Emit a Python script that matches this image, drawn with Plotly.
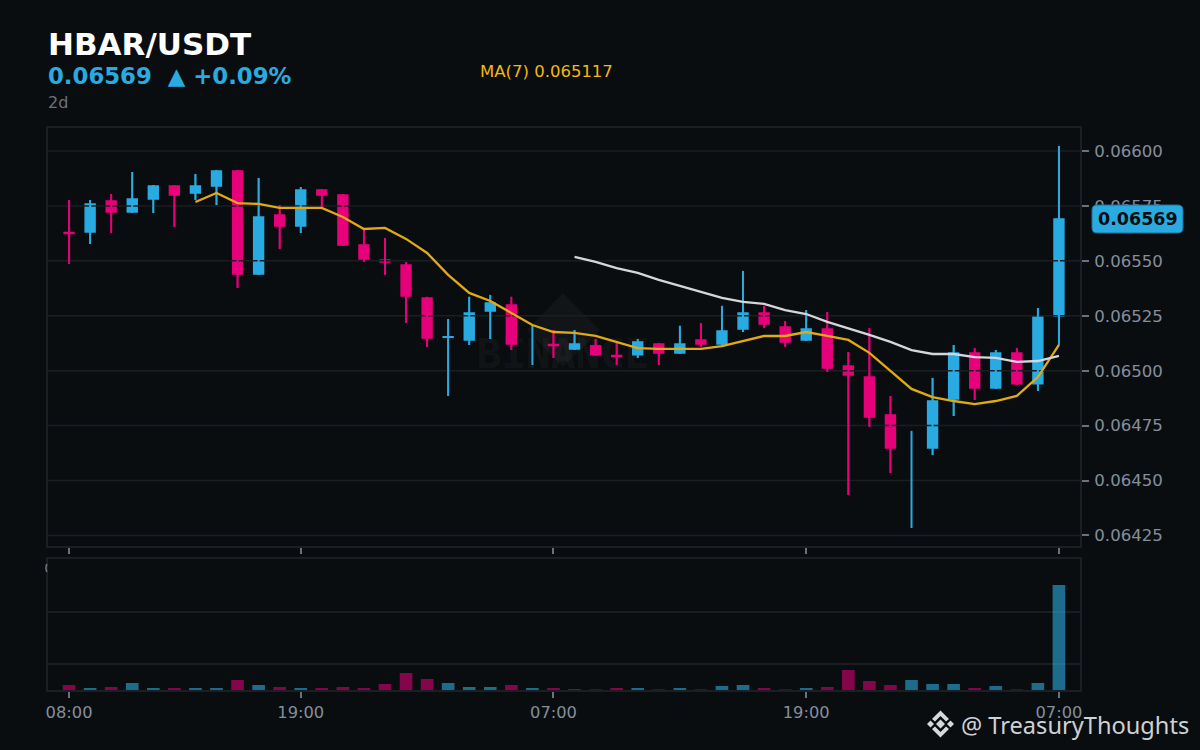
import plotly.graph_objects as go

hours = list(range(48))
x_tick_pos = [0, 11, 23, 35, 47]
x_tick_text = ["08:00", "19:00", "07:00", "19:00", "07:00"]
price_ticks = [0.06600, 0.06575, 0.06550, 0.06525, 0.06500, 0.06475, 0.06450, 0.06425]
price_tick_text = ["0.06600", "0.06575", "0.06550", "0.06525", "0.06500", "0.06475", "0.06450", "0.06425"]

opens = [0.065629, 0.065631, 0.065772, 0.065722, 0.065782, 0.065841, 0.065809, 0.065841,
         0.065909, 0.065440, 0.065709, 0.065659, 0.065823, 0.065800, 0.065572, 0.065504,
         0.065481, 0.065331, 0.065152, 0.065140, 0.065272, 0.065299, None, 0.065119,
         0.065099, 0.065113, 0.065069, 0.065072, 0.065122, 0.065081, 0.065140, 0.065122,
         0.065190, 0.065263, 0.065199, 0.065140, 0.065190, 0.065021, 0.064971, 0.064798,
         None, 0.064648, 0.064871, 0.065081, 0.064921, 0.065081, 0.064940, 0.065249]
highs = [0.065777, 0.065777, 0.065804, 0.065904, 0.065845, 0.065845, 0.065895, 0.065914,
         0.065914, 0.065877, 0.065754, 0.065836, 0.065827, 0.065804, 0.065640, 0.065604,
         0.065495, 0.065336, 0.065235, 0.065336, 0.065345, 0.065336, 0.065204, 0.065185,
         0.065185, 0.065144, 0.065126, 0.065144, 0.065126, 0.065204, 0.065217, 0.065295,
         0.065454, 0.065295, 0.065226, 0.065276, 0.065267, 0.065085, 0.065194, 0.064885,
         0.064726, 0.064967, 0.065117, 0.065103, 0.065094, 0.065103, 0.065285, 0.066023]
lows = [0.065486, 0.065577, 0.065627, 0.065718, 0.065718, 0.065654, 0.065777, 0.065754,
        0.065377, 0.065436, 0.065554, 0.065627, 0.065741, 0.065568, 0.065495, 0.065436,
        0.065217, 0.065108, 0.064885, 0.065117, 0.065144, 0.065094, 0.065026, 0.065058,
        0.065094, 0.065067, 0.065026, 0.065058, 0.065026, 0.065076, 0.065108, 0.065117,
        0.065176, 0.065194, 0.065108, 0.065135, 0.064994, 0.064434, 0.064744, 0.064534,
        0.064284, 0.064616, 0.064794, 0.064867, 0.064917, 0.064935, 0.064908, 0.065117]
closes = [0.065625, 0.065759, 0.065722, 0.065782, 0.065841, 0.065800, 0.065841, 0.065909,
          0.065440, 0.065700, 0.065659, 0.065823, 0.065800, 0.065572, 0.065508, 0.065495,
          0.065340, 0.065149, 0.065155, 0.065263, 0.065308, 0.065122, None, 0.065115,
          0.065122, 0.065072, 0.065065, 0.065131, 0.065081, 0.065122, 0.065122, 0.065181,
          0.065263, 0.065213, 0.065131, 0.065190, 0.065012, 0.064980, 0.064789, 0.064648,
          None, 0.064862, 0.065081, 0.064921, 0.065081, 0.064940, 0.065244, 0.065691]
is_up = [False, True, False, True, True, False, True, True,
         False, True, False, True, False, False, False, False,
         False, False, True, True, True, False, True, False,
         True, False, False, True, False, True, False, True,
         True, False, False, True, False, False, False, False,
         True, True, True, False, True, False, True, True]

ma7 = [None, None, None, None, None, None, 0.065768, 0.065809,
       0.065763, 0.065759, 0.065741, 0.065741, 0.065741, 0.065700, 0.065645, 0.065650,
       0.065600, 0.065536, 0.065436, 0.065354, 0.065317, 0.065263, 0.065208, 0.065176,
       0.065172, 0.065158, 0.065131, 0.065103, 0.065099, 0.065099, 0.065099, 0.065112,
       0.065135, 0.065158, 0.065158, 0.065176, 0.065158, 0.065140, 0.065081, 0.064999,
       0.064917, 0.064880, 0.064862, 0.064848, 0.064862, 0.064885, 0.064971, 0.065117]
ma25 = [None] * 24 + [0.065518, 0.065495, 0.065467, 0.065445, 0.065413, 0.065386, 0.065358, 0.065331,
                      0.065313, 0.065304, 0.065276, 0.065258, 0.065222, 0.065194, 0.065163, 0.065131,
                      0.065094, 0.065076, 0.065076, 0.065062, 0.065058, 0.065040, 0.065044, 0.065067]

volumes = [50, 20, 30, 70, 20, 20, 20, 20,
           100, 50, 30, 20, 20, 30, 20, 60,
           170, 110, 70, 30, 30, 50, 20, 20,
           5, 5, 20, 20, 5, 20, 5, 40,
           50, 20, 5, 20, 30, 200, 90, 50,
           100, 60, 60, 20, 40, 5, 70, 1050]
volume_ticks = [260, 780]

symbol = "HBAR/USDT"
headline = "0.06569\u00a0\u00a0▲ +0.09%"
interval = "2d"
ma_label = "MA(7) 0.065117"
last_price = "0.06569"
brand = "BINANCE"
handle = "@ TreasuryThoughts"

BG = "#0a0d10"
UP = "#29abe2"
DOWN = "#e6007a"
UP_VOL = "rgba(41,171,226,0.6)"
DOWN_VOL = "rgba(230,0,122,0.56)"
GRID = "#1a1e23"
FRAME = "#1b1f24"
TICK = "#6c727b"
MUTED = "#848e9c"
FONT = "DejaVu Sans"


def px(x):
    return (x - 48) / 1032


def py(y):
    return (690 - y) / 562


def path(points):
    return "M " + " L ".join(f"{px(a):.5f} {py(b):.5f}" for a, b in points) + " Z"


def rounded(x0, y0, x1, y1, r):
    pts = [
        ("M", x0 + r, y0), ("L", x1 - r, y0), ("Q", x1, y0, x1, y0 + r),
        ("L", x1, y1 - r), ("Q", x1, y1, x1 - r, y1), ("L", x0 + r, y1),
        ("Q", x0, y1, x0, y1 - r), ("L", x0, y0 + r), ("Q", x0, y0, x0 + r, y0),
    ]
    out = []
    for p in pts:
        if p[0] == "Q":
            out.append(f"Q {px(p[1]):.5f} {py(p[2]):.5f} {px(p[3]):.5f} {py(p[4]):.5f}")
        else:
            out.append(f"{p[0]} {px(p[1]):.5f} {py(p[2]):.5f}")
    return " ".join(out) + " Z"


fig = go.Figure()

fig.add_trace(go.Candlestick(
    x=hours, open=opens, high=highs, low=lows, close=closes,
    xaxis="x", yaxis="y", whiskerwidth=0,
    increasing=dict(line=dict(color=UP, width=1.5), fillcolor=UP),
    decreasing=dict(line=dict(color=DOWN, width=1.5), fillcolor=DOWN),
    showlegend=False, hoverinfo="skip",
))

grid_x, grid_y = [], []
for v in price_ticks:
    grid_x += [-1, 48, None]
    grid_y += [v, v, None]
fig.add_trace(go.Scatter(x=grid_x, y=grid_y, mode="lines", xaxis="x", yaxis="y",
                         line=dict(color=GRID, width=1.5), showlegend=False, hoverinfo="skip"))

for flag, colour in ((True, UP), (False, DOWN)):
    wx, wy = [], []
    for i in hours:
        if is_up[i] == flag:
            wx += [i, i, None]
            wy += [highs[i], lows[i], None]
    fig.add_trace(go.Scatter(x=wx, y=wy, mode="lines", xaxis="x", yaxis="y",
                             line=dict(color=colour, width=2), showlegend=False, hoverinfo="skip"))

fig.add_trace(go.Scatter(x=hours, y=ma7, mode="lines", xaxis="x", yaxis="y",
                         line=dict(color="#e2aa12", width=2.3), showlegend=False, hoverinfo="skip"))
fig.add_trace(go.Scatter(x=hours, y=ma25, mode="lines", xaxis="x", yaxis="y",
                         line=dict(color="#d4d6d9", width=2.3), showlegend=False, hoverinfo="skip"))

fig.add_trace(go.Bar(x=hours, y=volumes, xaxis="x2", yaxis="y2", width=0.6,
                     marker=dict(color=[UP_VOL if u else DOWN_VOL for u in is_up], line=dict(width=0)),
                     showlegend=False, hoverinfo="skip"))

shapes = [
    dict(type="path", xref="paper", yref="paper", layer="below",
         path=path([(563, 293), (600, 330), (563, 367), (527, 330)]),
         fillcolor="rgba(255,255,255,0.035)", line=dict(width=0)),
    dict(type="rect", xref="paper", yref="paper", layer="below",
         x0=px(476), x1=px(650), y0=py(366), y1=py(336),
         fillcolor="rgba(0,0,0,0)", line=dict(width=0),
         label=dict(text=brand, textposition="middle center",
                    font=dict(family="DejaVu Sans Mono", size=41, color="rgba(255,255,255,0.05)", weight=700))),
    dict(type="path", xref="paper", yref="paper", layer="above",
         path=rounded(1092, 205, 1183, 233, 5), fillcolor=UP,
         line=dict(color="#1d6f94", width=1)),
    dict(type="path", xref="paper", yref="paper", layer="above",
         path=f"M {px(46.8):.5f} {py(564):.5f} Q {px(45):.5f} {py(568):.5f} {px(46.8):.5f} {py(572):.5f}",
         line=dict(color=TICK, width=1.5)),
]
logo_colour = "#d6d8da"
cx, cy = 940.5, 724
logo_parts = [
    [(cx, cy - 4.5), (cx + 4.5, cy), (cx, cy + 4.5), (cx - 4.5, cy)],
    [(cx - 13.5, cy), (cx - 10, cy - 3.5), (cx - 6.5, cy), (cx - 10, cy + 3.5)],
    [(cx + 13.5, cy), (cx + 10, cy - 3.5), (cx + 6.5, cy), (cx + 10, cy + 3.5)],
    [(cx, cy - 13.5), (cx + 8.5, cy - 5), (cx + 5.5, cy - 2.5), (cx, cy - 8), (cx - 5.5, cy - 2.5), (cx - 8.5, cy - 5)],
    [(cx, cy + 13.5), (cx + 8.5, cy + 5), (cx + 5.5, cy + 2.5), (cx, cy + 8), (cx - 5.5, cy + 2.5), (cx - 8.5, cy + 5)],
]
for part in logo_parts:
    shapes.append(dict(type="path", xref="paper", yref="paper", layer="above",
                       path=path(part), fillcolor=logo_colour, line=dict(width=0)))


def note(text, x, y, size, colour, weight=400, anchor="left", family=FONT):
    return dict(text=text, x=px(x), y=py(y), xref="paper", yref="paper",
                xanchor=anchor, yanchor="middle", showarrow=False,
                font=dict(family=family, size=size, color=colour, weight=weight))


annotations = [
    note(symbol, 46, 44, 31, "#ffffff", 700),
    note(headline, 46, 76, 22.8, UP, 700),
    note(interval, 46, 102, 16, "#6c727b"),
    note(ma_label, 478, 71, 16.5, "#f0b90b"),
    note(last_price, 1138, 219, 17.5, "#0a0d10", 700, "center"),
    note(handle, 959, 725, 23.6, "#cfd1d4", family="Noto Sans"),
]

axis_common = dict(showline=True, linecolor=FRAME, linewidth=2, mirror=True, zeroline=False, showgrid=False)

fig.update_layout(
    width=1200, height=750,
    margin=dict(l=48, r=120, t=128, b=60, pad=0),
    paper_bgcolor=BG, plot_bgcolor=BG,
    font=dict(family=FONT, color=MUTED, size=16),
    boxgap=0.33, bargap=0.4,
    showlegend=False,
    shapes=shapes, annotations=annotations,
    xaxis=dict(domain=[0, 1], range=[-1, 48], anchor="y", tickmode="array",
               tickvals=x_tick_pos, ticktext=x_tick_text, showticklabels=False,
               ticks="outside", ticklen=6, tickwidth=2, tickcolor=TICK,
               rangeslider=dict(visible=False), **axis_common),
    yaxis=dict(domain=[144 / 562, 1], range=[0.064202, 0.0661047], anchor="x", side="right",
               tickmode="array", tickvals=price_ticks, ticktext=price_tick_text,
               ticks="outside", ticklen=7, tickwidth=2, tickcolor=TICK, ticklabelstandoff=2,
               tickfont=dict(family=FONT, size=16.6, color=MUTED), **axis_common),
    xaxis2=dict(domain=[0, 1], range=[-1, 48], anchor="y2", tickmode="array",
                tickvals=x_tick_pos, ticktext=x_tick_text,
                ticks="outside", ticklen=6, tickwidth=2, tickcolor=TICK,
                tickfont=dict(family=FONT, size=16.3, color=MUTED), **axis_common),
    yaxis2=dict(domain=[0, 131 / 562], range=[0, 1310], anchor="x2", side="right",
                tickmode="array", tickvals=volume_ticks, showticklabels=False, ticks="",
                showline=True, linecolor=FRAME, linewidth=2, mirror=True, zeroline=False,
                showgrid=True, gridcolor=GRID, gridwidth=1.5),
)

fig.write_html(
    "out.html",
    config={"displayModeBar": False},
    post_script="document.body.style.margin='0';document.body.style.background='#0a0d10';document.documentElement.style.overflow='hidden';",
)
